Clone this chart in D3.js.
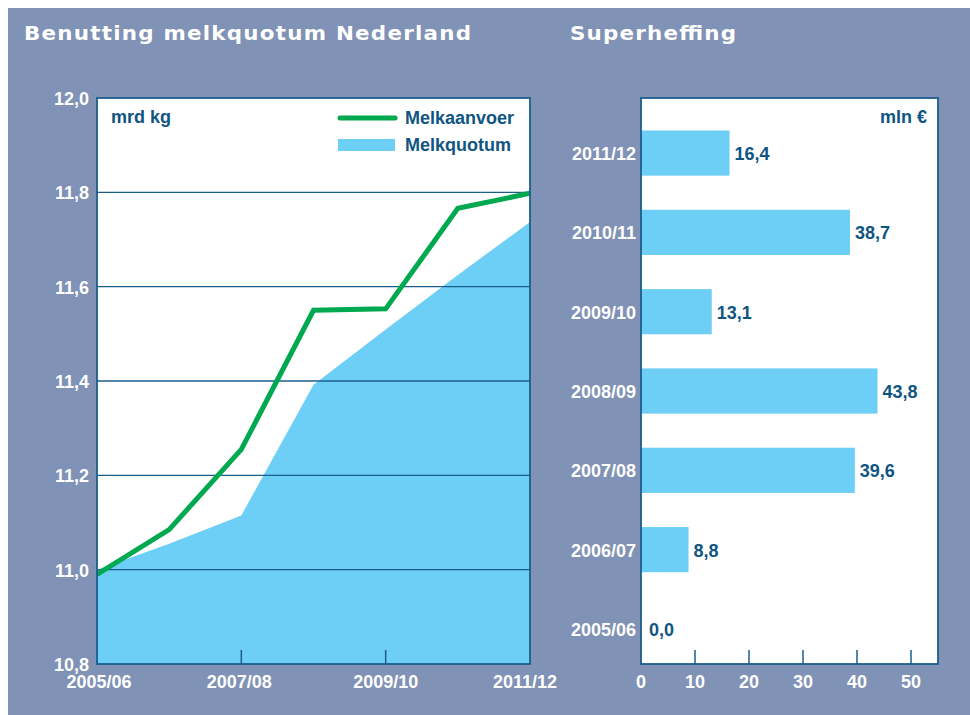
<!DOCTYPE html>
<html>
<head>
<meta charset="utf-8">
<script src="https://cdn.jsdelivr.net/npm/d3@7"></script>
<style>
html,body{margin:0;padding:0;background:#fff;}
svg{display:block;}
text{font-family:Arial,"Liberation Sans",sans-serif;font-weight:bold;}
</style>
</head>
<body>
<svg id="chart" width="970" height="715"></svg>
<script>
// ---- data ----
const seasons = ["2005/06","2006/07","2007/08","2008/09","2009/10","2010/11","2011/12"];
const melkaanvoer = [10.99, 11.085, 11.255, 11.55, 11.553, 11.766, 11.798];
const melkquotum = [11.0, 11.055, 11.115, 11.392, 11.509, 11.625, 11.737];
const superheffing = [0.0, 8.8, 39.6, 43.8, 13.1, 38.7, 16.4];
const leftYTicks = [10.8, 11.0, 11.2, 11.4, 11.6, 11.8, 12.0];
const leftXLabels = ["2005/06","2007/08","2009/10","2011/12"];
const rightXTicks = [0, 10, 20, 30, 40, 50];

const BG = "#8092b5", FRAME = "#1b5e8c", TXT = "#0f5582", GREEN = "#00a84f", LIGHT = "#6dcff6";
const FS = "18px";
const fmt = v => d3.format(".1f")(v).replace(".", ",");

const svg = d3.select("#chart");
svg.append("rect").attr("x", 8).attr("y", 8).attr("width", 962).attr("height", 707).attr("fill", BG);

// titles (slightly widened bold face)
function title(x0, w, s) {
  svg.append("text").attr("transform", `translate(${x0},40) scale(1.07,1)`)
    .attr("fill", "#fff")
    .style("font-family", "'DejaVu Sans',sans-serif").style("font-size", "20px").style("font-weight", 700)
    .attr("textLength", w / 1.07).attr("lengthAdjust", "spacing").text(s);
}
title(24, 447, "Benutting melkquotum Nederland");
title(570, 166, "Superheffing");

// ---- left chart ----
const L = {l: 97, r: 530, t: 98, b: 664};
const x = d3.scalePoint().domain(seasons).range([L.l, L.r]);
const y = d3.scaleLinear().domain([10.8, 12.0]).range([L.b, L.t]);

const gL = svg.append("g");
gL.append("rect").attr("x", L.l).attr("y", L.t).attr("width", L.r - L.l).attr("height", L.b - L.t).attr("fill", "#fff");

const area = d3.area().x((d, i) => x(seasons[i])).y0(y(10.8)).y1(d => y(d));
gL.append("path").datum(melkquotum).attr("d", area).attr("fill", LIGHT);

// gridlines
gL.selectAll("line.grid").data(leftYTicks.filter(v => v > 10.8 && v < 12.0)).join("line")
  .attr("x1", L.l).attr("x2", L.r).attr("y1", d => y(d)).attr("y2", d => y(d))
  .attr("stroke", FRAME).attr("stroke-width", 1.3);

// inward x ticks
gL.selectAll("line.xt").data(["2007/08","2009/10"]).join("line")
  .attr("x1", d => x(d)).attr("x2", d => x(d)).attr("y1", L.b).attr("y2", L.b - 14)
  .attr("stroke", FRAME).attr("stroke-width", 1.5);

// green line
const line = d3.line().x((d, i) => x(seasons[i])).y(d => y(d));
svg.append("clipPath").attr("id", "clipL").append("rect")
  .attr("x", L.l).attr("y", L.t).attr("width", L.r - L.l).attr("height", L.b - L.t);
gL.append("path").datum(melkaanvoer).attr("d", line).attr("fill", "none")
  .attr("stroke", GREEN).attr("stroke-width", 5).attr("stroke-linejoin", "miter")
  .attr("clip-path", "url(#clipL)");

gL.append("rect").attr("x", L.l).attr("y", L.t).attr("width", L.r - L.l).attr("height", L.b - L.t)
  .attr("fill", "none").attr("stroke", FRAME).attr("stroke-width", 1.8);

// y labels
gL.selectAll("text.yl").data(leftYTicks).join("text")
  .attr("x", 89).attr("y", d => y(d) + 7).attr("text-anchor", "end")
  .attr("fill", "#fff").style("font-size", FS).text(d => fmt(d));
// x labels
const xLabelShift = {"2005/06": 2, "2007/08": -2, "2009/10": 0, "2011/12": -5};
gL.selectAll("text.xl").data(leftXLabels).join("text")
  .attr("x", d => x(d) + xLabelShift[d]).attr("y", 688).attr("text-anchor", "middle")
  .attr("fill", "#fff").style("font-size", FS).text(d => d);

gL.append("text").attr("x", 111).attr("y", 123).attr("fill", TXT).style("font-size", FS).text("mrd kg");

// legend
gL.append("line").attr("x1", 340).attr("x2", 395).attr("y1", 118).attr("y2", 118)
  .attr("stroke", GREEN).attr("stroke-width", 5).attr("stroke-linecap", "round");
gL.append("rect").attr("x", 338).attr("y", 139).attr("width", 57).attr("height", 12).attr("fill", LIGHT);
gL.append("text").attr("x", 405).attr("y", 124).attr("fill", TXT).style("font-size", FS).text("Melkaanvoer");
gL.append("text").attr("x", 405).attr("y", 151).attr("fill", TXT).style("font-size", FS).text("Melkquotum");

// ---- right chart ----
const R = {l: 641, r: 938, t: 98, b: 664};
const xr = d3.scaleLinear().domain([0, 55]).range([R.l, R.r]);
const yr = d3.scaleBand().domain(seasons.slice().reverse()).range([113.4, 668.6]).paddingInner(0.43).paddingOuter(0.215);

const gR = svg.append("g");
gR.append("rect").attr("x", R.l).attr("y", R.t).attr("width", R.r - R.l).attr("height", R.b - R.t).attr("fill", "#fff");

gR.selectAll("rect.bar").data(seasons).join("rect")
  .attr("x", xr(0)).attr("y", d => yr(d)).attr("height", yr.bandwidth())
  .attr("width", (d, i) => xr(superheffing[i]) - xr(0)).attr("fill", LIGHT);

gR.selectAll("text.val").data(seasons).join("text")
  .attr("x", (d, i) => xr(superheffing[i]) + (superheffing[i] > 0 ? 5 : 8))
  .attr("y", d => yr(d) + yr.bandwidth() / 2 + 7)
  .attr("fill", TXT).style("font-size", FS).text((d, i) => fmt(superheffing[i]));

gR.selectAll("text.cat").data(seasons).join("text")
  .attr("x", 636).attr("y", d => yr(d) + yr.bandwidth() / 2 + 7).attr("text-anchor", "end")
  .attr("fill", "#fff").style("font-size", FS).text(d => d);

gR.selectAll("line.xt").data(rightXTicks.filter(v => v > 0)).join("line")
  .attr("x1", d => xr(d)).attr("x2", d => xr(d)).attr("y1", R.b).attr("y2", R.b - 14)
  .attr("stroke", FRAME).attr("stroke-width", 1.5);

gR.append("rect").attr("x", R.l).attr("y", R.t).attr("width", R.r - R.l).attr("height", R.b - R.t)
  .attr("fill", "none").attr("stroke", FRAME).attr("stroke-width", 1.8);

gR.selectAll("text.xl").data(rightXTicks).join("text")
  .attr("x", d => xr(d)).attr("y", 688).attr("text-anchor", "middle")
  .attr("fill", "#fff").style("font-size", FS).text(d => d);

gR.append("text").attr("x", 927).attr("y", 123).attr("text-anchor", "end")
  .attr("fill", TXT).style("font-size", FS).text("mln €");
</script>
</body>
</html>
